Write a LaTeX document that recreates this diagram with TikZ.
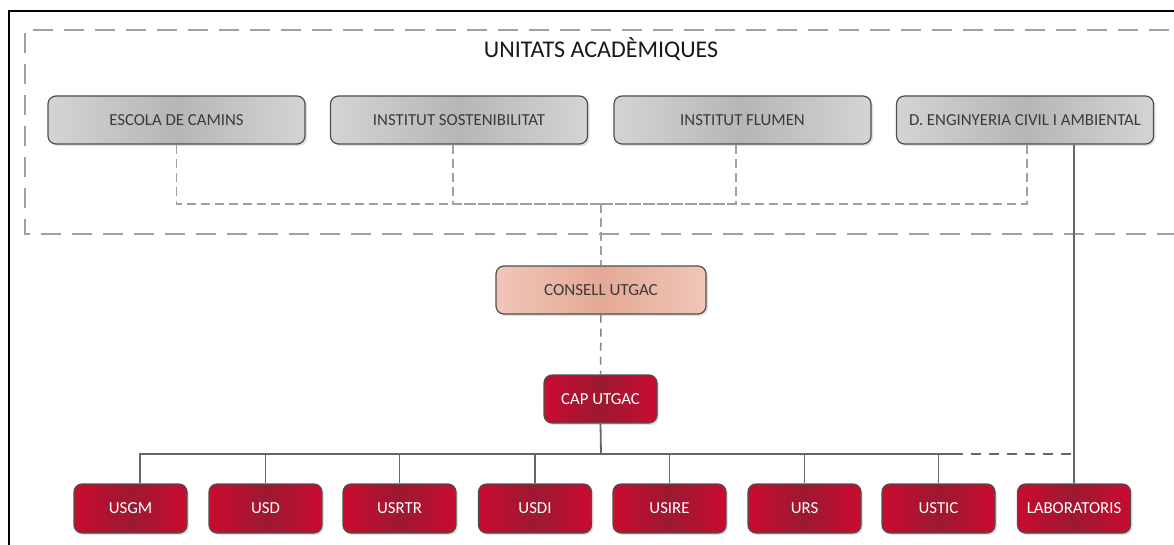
\documentclass[tikz,border=0pt]{standalone}
\usepackage{fontspec}
\setmainfont{Carlito}
\usetikzlibrary{shadows}
\definecolor{gEdge}{HTML}{D4D4D4}
\definecolor{gMid}{HTML}{B6B6B6}
\definecolor{rEdge}{HTML}{CA0B2F}
\definecolor{rMid}{HTML}{9C1932}
\definecolor{sEdge}{HTML}{F1C6B8}
\definecolor{sMid}{HTML}{E4A995}
\definecolor{bord}{HTML}{4E4E4E}
\definecolor{txtdark}{HTML}{3A3A3A}
\definecolor{dashgray}{HTML}{A0A0A0}
\definecolor{linegray}{HTML}{666666}
\tikzset{
  basebox/.style={rounded corners=8pt, draw=bord, line width=1.2pt, inner sep=0pt,
    drop shadow={shadow xshift=2pt, shadow yshift=-2pt, fill=black, opacity=0.12}},
  graybox/.style={basebox, minimum width=257pt, minimum height=48pt,
    left color=gEdge, right color=gEdge, middle color=gMid, text=txtdark,
    font=\fontsize{16.8}{19}\selectfont},
  salbox/.style={basebox, minimum width=210pt, minimum height=48pt,
    left color=sEdge, right color=sEdge, middle color=sMid, text=txtdark,
    font=\fontsize{17}{19}\selectfont},
  redbox/.style={basebox, minimum width=113pt, minimum height=49pt,
    left color=rEdge, right color=rEdge, middle color=rMid, text=white,
    font=\fontsize{16.8}{19}\selectfont},
  topdash/.style={draw=dashgray, line width=1.3pt, dash pattern=on 9pt off 5pt},
  framedash/.style={draw=dashgray, line width=1.5pt, dash pattern=on 20pt off 11pt},
  middash/.style={draw=linegray!80, line width=1.5pt, dash pattern=on 8pt off 6pt},
  botdash/.style={draw=linegray, line width=1.8pt, dash pattern=on 10pt off 8pt},
  solidline/.style={draw=linegray, line width=1.8pt},
}
\begin{document}
\begin{tikzpicture}[x=1pt, y=-1pt]
\useasboundingbox (0,0) rectangle (1174,545);
\clip (0,0) rectangle (1174,545);
\fill[white] (0,0) rectangle (1174,545);
% outer frame
\draw[black, line width=1.7pt] (9,570) -- (9,11) -- (1200,11);
% dashed group frame
\draw[framedash] (1200,30) -- (25,30) -- (25,234) -- (1200,234);
\node[text=black!90, font=\fontsize{24}{27}\selectfont] (title) at (601,49) {UNITATS ACADÈMIQUES};

% academic units
\node[graybox] (escola) at (176.5,120) {ESCOLA DE CAMINS};
\node[graybox] (sost) at (459,120) {INSTITUT SOSTENIBILITAT};
\node[graybox] (flumen) at (742.5,120) {INSTITUT FLUMEN};
\node[graybox] (deng) at (1025,120) {D. ENGINYERIA CIVIL I AMBIENTAL};

\node[salbox] (consell) at (601,290) {CONSELL UTGAC};
\node[redbox, minimum height=48pt] (cap) at (600.5,399) {CAP UTGAC};

% units
\node[redbox] (usgm) at (130.5,508.5) {USGM};
\node[redbox] (usd) at (265.5,508.5) {USD};
\node[redbox] (usrtr) at (399.5,508.5) {USRTR};
\node[redbox] (usdi) at (535,508.5) {USDI};
\node[redbox] (usire) at (669.5,508.5) {USIRE};
\node[redbox] (urs) at (804.5,508.5) {URS};
\node[redbox] (ustic) at (938.5,508.5) {USTIC};
\node[redbox] (lab) at (1074,508.5) {LABORATORIS};

\coordinate (hub) at (601,204);
\coordinate (bus) at (601,454);
\coordinate (busend) at (953,454);

% dashed connectors of academic units
\draw[topdash] (escola.south) |- (hub);
\draw[topdash] ([xshift=-6pt]sost.south) |- (hub);
\draw[topdash] ([xshift=-6.5pt]flumen.south) |- (hub);
\draw[topdash] ([xshift=2pt]deng.south) |- (hub);
\draw[topdash] (hub) -- (consell.north);

\draw[middash] (consell.south) -- (cap.north);

% solid tree
\draw[solidline] (cap.south) -- (bus);
\draw[solidline] ([xshift=9.5pt]usgm.north) |- (busend);
\draw[solidline] (usd.north) -- (usd.north |- bus);
\draw[solidline] (usrtr.north) -- (usrtr.north |- bus);
\draw[solidline] (usdi.north) -- (usdi.north |- bus);
\draw[solidline] (usire.north) -- (usire.north |- bus);
\draw[solidline] (urs.north) -- (urs.north |- bus);
\draw[solidline] (ustic.north) -- (ustic.north |- bus);
\draw[botdash] (busend) -- (lab.north |- bus);
\draw[solidline] (lab.north) -- (lab.north |- deng.south);
\end{tikzpicture}
\end{document}
